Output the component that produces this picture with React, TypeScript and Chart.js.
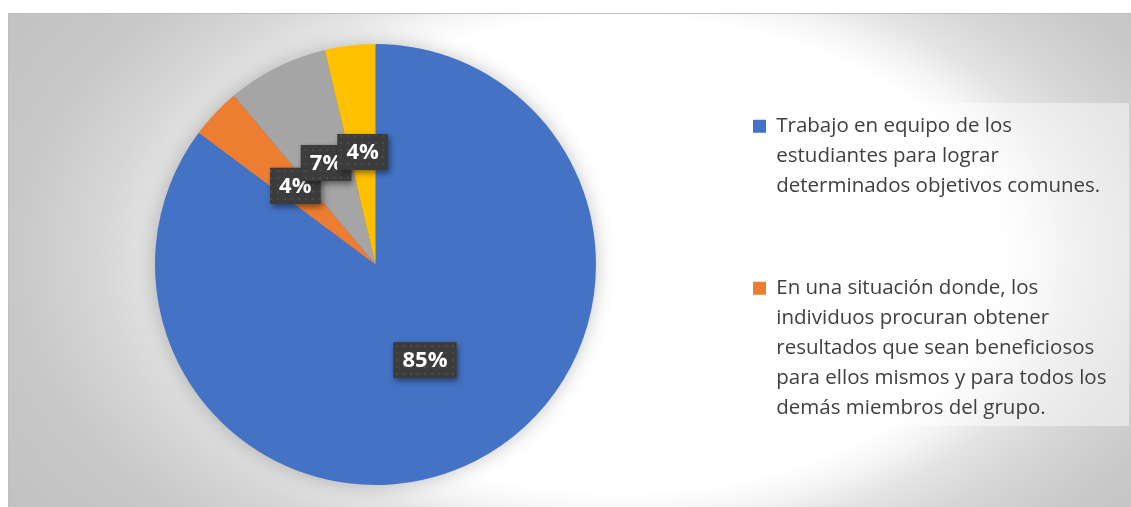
import React, { useEffect, useRef } from "react";
import { Chart, registerables } from "chart.js";

Chart.register(...registerables);

// ---- data ----
const categories: string[][] = [
  ["Trabajo en equipo de los", "estudiantes para lograr", "determinados objetivos comunes."],
  [
    "En una situación donde, los",
    "individuos procuran obtener",
    "resultados que sean beneficiosos",
    "para ellos mismos y para todos los",
    "demás miembros del grupo.",
  ],
  ["Categoría 3"],
  ["Categoría 4"],
];
const responses = [23, 1, 2, 1];
const sliceColors = ["#4472C4", "#ED7D31", "#A5A5A5", "#FFC000"];
const legendVisibleCount = 2;

const FONT = "'Open Sans', 'Noto Sans', sans-serif";
const LEGEND_PAD = 72;
const LEGEND_LINE = 30;
const CANVAS_W = 1122;
const CANVAS_H = 493;
const LEGEND_LEFT = 672;

function makeDotPattern(ctx: CanvasRenderingContext2D) {
  const c = document.createElement("canvas");
  c.width = 7;
  c.height = 7;
  const p = c.getContext("2d")!;
  p.fillStyle = "#3c3c3c";
  p.fillRect(0, 0, 7, 7);
  p.fillStyle = "#4b4b4b";
  p.fillRect(2, 2, 2, 2);
  return ctx.createPattern(c, "repeat");
}

const legendBackdrop = {
  id: "legendBackdrop",
  beforeDraw(chart: any) {
    const lg = chart.legend;
    if (!lg) return;
    const ctx = chart.ctx;
    let lines = 0;
    let items = 0;
    (lg.legendItems || []).forEach((it: any) => {
      lines += Array.isArray(it.text) ? it.text.length : 1;
      items += 1;
    });
    const top = lg.top + LEGEND_PAD - 13;
    const bottom = lg.top + LEGEND_PAD + lines * LEGEND_LINE + (items - 1) * LEGEND_PAD - 2;
    const left = lg.left + LEGEND_PAD - 12;
    const right = chart.width - 2;
    ctx.save();
    ctx.fillStyle = "rgba(255,255,255,0.45)";
    ctx.fillRect(left, top, right - left, bottom - top);
    ctx.restore();
  },
};

// soft halo behind the pie
const pieHalo = {
  id: "pieHalo",
  beforeDatasetsDraw(chart: any) {
    const meta = chart.getDatasetMeta(0);
    const arc = meta.data[0];
    if (!arc) return;
    const ctx: CanvasRenderingContext2D = chart.ctx;
    ctx.save();
    ctx.shadowColor = "rgba(0,0,0,0.26)";
    ctx.shadowBlur = 20;
    ctx.shadowOffsetX = 0;
    ctx.shadowOffsetY = 0;
    ctx.fillStyle = sliceColors[0];
    ctx.beginPath();
    ctx.arc(arc.x, arc.y, arc.outerRadius - 1, 0, Math.PI * 2);
    ctx.fill();
    ctx.restore();
  },
};

const boxLabels = {
  id: "boxLabels",
  afterDatasetsDraw(chart: any) {
    const ctx: CanvasRenderingContext2D = chart.ctx;
    const meta = chart.getDatasetMeta(0);
    const data: number[] = chart.data.datasets[0].data;
    const total = data.reduce((a, b) => a + b, 0);
    const pattern = makeDotPattern(ctx);
    ctx.save();
    ctx.font = `bold 22px ${FONT}`;
    ctx.textAlign = "center";
    ctx.textBaseline = "middle";
    meta.data.forEach((arc: any, i: number) => {
      const pos = arc.tooltipPosition();
      const text = Math.round((data[i] / total) * 100) + "%";
      const w = ctx.measureText(text).width + 18;
      const h = 36;
      const cx = pos.x;
      const cy = pos.y - 3;
      const x0 = cx - w / 2;
      const y0 = cy - h / 2;
      ctx.save();
      ctx.shadowColor = "rgba(0,0,0,0.45)";
      ctx.shadowBlur = 6;
      ctx.shadowOffsetX = 2;
      ctx.shadowOffsetY = 3;
      ctx.fillStyle = "#3c3c3c";
      ctx.fillRect(x0, y0, w, h);
      ctx.restore();
      if (pattern) {
        ctx.fillStyle = pattern;
        ctx.fillRect(x0, y0, w, h);
      }
      ctx.fillStyle = "#ffffff";
      ctx.fillText(text, cx, cy + 1);
    });
    ctx.restore();
  },
};

export default function App() {
  const ref = useRef<HTMLCanvasElement | null>(null);
  useEffect(() => {
    if (!ref.current) return;
    const chart: any = new Chart(ref.current, {
      type: "pie",
      data: {
        labels: categories as any,
        datasets: [
          {
            data: responses,
            backgroundColor: sliceColors,
            borderWidth: 0,
          },
        ],
      },
      options: {
        responsive: false,
        animation: false,
        events: [],
        layout: { padding: { left: 61, right: 0, top: 30, bottom: 22 } },
        plugins: {
          tooltip: { enabled: false },
          legend: {
            position: "right",
            align: "start",
            maxWidth: CANVAS_W - LEGEND_LEFT,
            labels: {
              boxWidth: 13,
              boxHeight: 13,
              padding: LEGEND_PAD,
              color: "#404040",
              font: { family: FONT, size: 20.5, lineHeight: LEGEND_LINE + "px" } as any,
              filter: (item: any) => item.index < legendVisibleCount,
            },
          },
        },
      } as any,
      plugins: [legendBackdrop, pieHalo, boxLabels],
    });
    return () => chart.destroy();
  }, []);

  return (
    <div
      style={{
        position: "absolute",
        left: 8,
        top: 13,
        width: 1123,
        height: 494,
        boxSizing: "border-box",
        borderTop: "1px solid #bfbfbf",
        borderLeft: "1px solid #bfbfbf",
        background:
          "radial-gradient(ellipse 400px 250px at 611px 241px, #ffffff 0%, #ffffff 95%, #f4f4f4 105%, #e4e4e4 115%, #d6d6d6 130%, #c8c8c8 152%, #c2c2c2 180%)",
      }}
    >
      <canvas
        ref={ref}
        width={CANVAS_W}
        height={CANVAS_H}
        style={{ display: "block", width: CANVAS_W, height: CANVAS_H }}
      />
    </div>
  );
}
